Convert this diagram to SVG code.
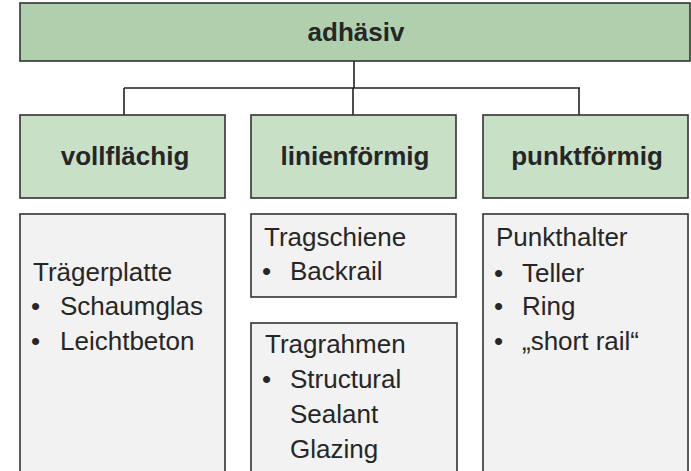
<svg xmlns="http://www.w3.org/2000/svg" width="691" height="471" viewBox="0 0 691 471">
<style>
text{font-family:"Liberation Sans",Arial,sans-serif;fill:#262626}
.h{font-size:26px;font-weight:bold;text-anchor:middle}
.b{font-size:26px}
.top{fill:#b0d0ad;stroke:#333;stroke-width:1.6}
.cat{fill:#c8e0c6;stroke:#333;stroke-width:1.6}
.det{fill:#f2f2f2;stroke:#333;stroke-width:1.6}
.con{stroke:#222;stroke-width:1.6;fill:none}
</style>
<rect width="691" height="471" fill="#fff"/>
<g id="connectors">
<path class="con" d="M354 61V88M124 88H580M124 88V115M353 88V115M579 88V115"/>
</g>
<g id="adhaesiv">
<rect class="top" x="20" y="3" width="670" height="58"/>
<text class="h" x="356" y="41">adhäsiv</text>
</g>
<g id="vollflaechig">
<rect class="cat" x="20" y="115" width="205" height="83"/>
<text class="h" x="125" y="165">vollflächig</text>
</g>
<g id="linienfoermig">
<rect class="cat" x="251" y="115" width="205" height="83"/>
<text class="h" x="355" y="165">linienförmig</text>
</g>
<g id="punktfoermig">
<rect class="cat" x="483" y="115" width="205" height="83"/>
<text class="h" x="587" y="165">punktförmig</text>
</g>
<g id="traegerplatte">
<rect class="det" x="20" y="214" width="205" height="270"/>
<text class="b" x="33" y="281">Trägerplatte</text>
<text class="b" x="31" y="315">•</text><text class="b" x="60" y="315">Schaumglas</text>
<text class="b" x="31" y="350">•</text><text class="b" x="60" y="350">Leichtbeton</text>
</g>
<g id="tragschiene">
<rect class="det" x="251" y="214" width="205" height="83"/>
<text class="b" x="264" y="246">Tragschiene</text>
<text class="b" x="262" y="280">•</text><text class="b" x="290" y="280">Backrail</text>
</g>
<g id="tragrahmen">
<rect class="det" x="251" y="323" width="206" height="160"/>
<text class="b" x="265" y="353">Tragrahmen</text>
<text class="b" x="262" y="388">•</text><text class="b" x="290" y="388">Structural</text>
<text class="b" x="290" y="423">Sealant</text>
<text class="b" x="290" y="458">Glazing</text>
</g>
<g id="punkthalter">
<rect class="det" x="483" y="214" width="205" height="270"/>
<text class="b" x="496" y="246">Punkthalter</text>
<text class="b" x="494" y="282">•</text><text class="b" x="522" y="282">Teller</text>
<text class="b" x="494" y="315">•</text><text class="b" x="522" y="315">Ring</text>
<text class="b" x="494" y="350">•</text><text class="b" x="522" y="350">„short rail“</text>
</g>
</svg>
